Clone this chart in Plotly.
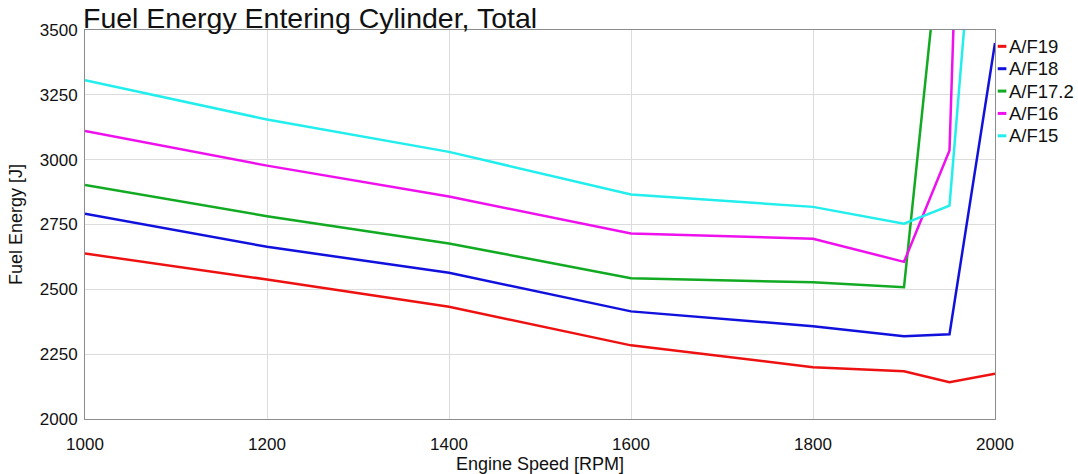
import plotly.graph_objects as go

# Engine speed sweep [RPM]
rpm = [1000, 1200, 1400, 1600, 1800, 1900, 1950, 2000]

# Total fuel energy entering the cylinder [J] for each air/fuel ratio
af19 = [2638, 2538, 2433, 2284, 2200, 2184, 2142, 2175]
af18 = [2792, 2664, 2564, 2415, 2358, 2319, 2327, 3450]
af17_2 = [2902, 2782, 2677, 2543, 2527, 2508, 4200, 4300]
af16 = [3111, 2977, 2858, 2715, 2695, 2606, 3035, 8500]
af15 = [3306, 3155, 3030, 2866, 2818, 2753, 2823, 4950]

series_names = ["A/F19", "A/F18", "A/F17.2", "A/F16", "A/F15"]
series_values = [af19, af18, af17_2, af16, af15]
series_colors = ["#ee1111", "#1111dd", "#11aa22", "#ee11ee", "#22eeee"]

y_ticks = [2000, 2250, 2500, 2750, 3000, 3250, 3500]
x_ticks = [1000, 1200, 1400, 1600, 1800, 2000]

FONT = "Liberation Sans, Arial, sans-serif"

fig = go.Figure()
for name, vals, color in zip(series_names, series_values, series_colors):
    fig.add_trace(go.Scatter(
        x=rpm, y=vals, name=name, mode="lines",
        line=dict(color=color, width=2.5),
        showlegend=False,
    ))

# Compact legend to the right of the plot: short coloured dash + label
row_top = 0.958
row_step = 0.0575
for i, (name, color) in enumerate(zip(series_names, series_colors)):
    yp = row_top - i * row_step
    fig.add_shape(type="line", xref="paper", yref="paper",
                  x0=1.003, x1=1.0125, y0=yp, y1=yp,
                  line=dict(color=color, width=3))
    fig.add_annotation(xref="paper", yref="paper", x=1.0135, y=yp,
                       xanchor="left", yanchor="middle", showarrow=False,
                       text=name, font=dict(family=FONT, size=18.5, color="#111"))

# Chart title, baseline resting on the top edge of the plot area
fig.add_annotation(xref="paper", yref="paper", x=0, y=1, xshift=-4, yshift=-6,
                   xanchor="left", yanchor="bottom", showarrow=False,
                   text="Fuel Energy Entering Cylinder, Total",
                   font=dict(family=FONT, size=28.5, color="#111"))

axis_common = dict(
    showgrid=True, gridcolor="#dcdcdc", gridwidth=1,
    showline=True, linecolor="#8c8c8c", linewidth=1, mirror=True,
    zeroline=False, ticks="", automargin=False,
    tickfont=dict(family=FONT, size=17, color="#111"),
)

fig.update_layout(
    width=1078, height=474,
    margin=dict(l=85, r=83, t=30, b=55),
    paper_bgcolor="white", plot_bgcolor="white",
    font=dict(family=FONT, color="#111"),
    xaxis=dict(
        range=[1000, 2000], tickvals=x_ticks,
        ticklabelstandoff=10,
        title=dict(text="Engine Speed [RPM]", font=dict(family=FONT, size=18, color="#111"), standoff=9),
        **axis_common,
    ),
    yaxis=dict(
        range=[2000, 3500], tickvals=y_ticks,
        ticklabelstandoff=3,
        title=dict(text="Fuel Energy [J]", font=dict(family=FONT, size=18, color="#111"), standoff=12),
        **axis_common,
    ),
)

fig.write_html("out.html")
